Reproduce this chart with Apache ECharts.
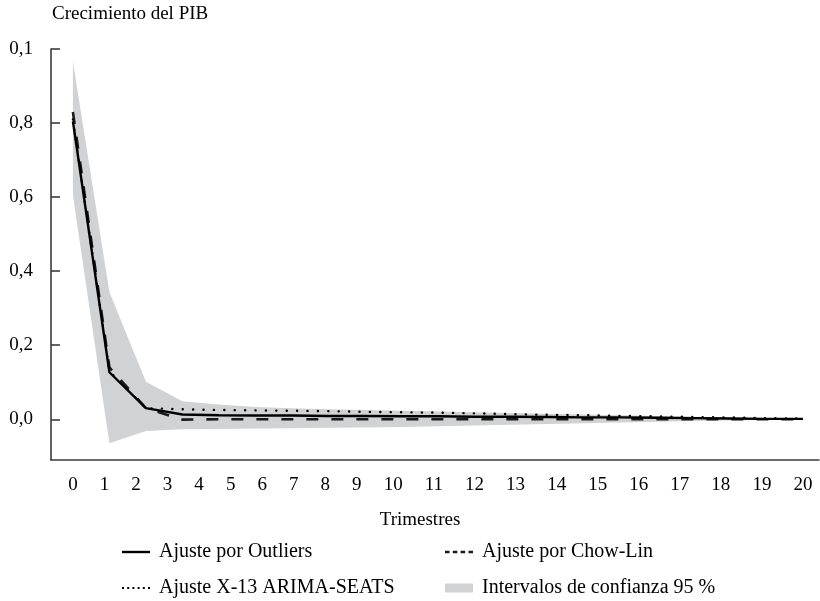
<!DOCTYPE html>
<html>
<head>
<meta charset="utf-8">
<title>Crecimiento del PIB</title>
<script src="https://cdn.jsdelivr.net/npm/echarts@6/dist/echarts.min.js"></script>
<style>
  html, body { margin: 0; padding: 0; background: #ffffff; }
  #chart { width: 820px; height: 601px; }
</style>
</head>
<body>
<div id="chart"></div>
<script>
// Quarters after the shock
const quarters = [0, 1, 2, 3, 4, 5, 6, 7, 8, 9, 10, 11, 12, 13, 14, 15, 16, 17, 18, 19, 20];

// Impulse responses of GDP growth
const outliers = [0.805, 0.127, 0.030, 0.013, 0.011, 0.010, 0.010, 0.009, 0.009, 0.008, 0.008,
                  0.007, 0.007, 0.006, 0.005, 0.005, 0.004, 0.003, 0.002, 0.001, 0.001];
const chowLin  = [0.830, 0.140, 0.030, -0.001, 0.000, 0.000, 0.000, 0.000, 0.000, 0.000, 0.000,
                  0.000, 0.000, 0.000, 0.000, 0.000, 0.000, 0.000, 0.000, 0.000, 0.000];
const x13      = [0.810, 0.130, 0.030, 0.027, 0.025, 0.024, 0.023, 0.022, 0.020, 0.019, 0.018,
                  0.016, 0.014, 0.012, 0.011, 0.009, 0.008, 0.006, 0.005, 0.003, 0.002];

// 95 % confidence band
const ciUpper  = [0.966, 0.344, 0.101, 0.049, 0.040, 0.033, 0.030, 0.027, 0.025, 0.023, 0.021,
                  0.019, 0.017, 0.015, 0.013, 0.011, 0.009, 0.007, 0.005, 0.003, 0.001];
const ciLower  = [0.605, -0.065, -0.032, -0.027, -0.026, -0.025, -0.024, -0.023, -0.022, -0.021, -0.019,
                  -0.017, -0.015, -0.013, -0.011, -0.009, -0.007, -0.005, -0.003, -0.002, 0.000];

// Tick labels
const xTickLabels = ['0', '1', '2', '3', '4', '5', '6', '7', '8', '9', '10',
                     '11', '12', '13', '14', '15', '16', '17', '18', '19', '20'];
const yTickValues = [0, 0.2, 0.4, 0.6, 0.8, 1.0];
const yTickLabels = ['0,0', '0,2', '0,4', '0,6', '0,8', '0,1'];

const FONT = '"Liberation Serif", "Times New Roman", Times, serif';
const INK = '#000000';
const AXIS = '#3c3c3c';
const BAND = '#d1d2d4';

const chart = echarts.init(document.getElementById('chart'), null, { renderer: 'canvas' });

const grid = { left: 51, right: 1, top: 49, bottom: 141 };
const xMin = -0.6, xMax = 20.44;
const yMin = -0.11, yMax = 1.0;
const tickFontSize = 19;
const legendFontSize = 20;

// The quarter labels run from the first to the last quarter with an even
// blank space between neighbouring labels.
const measure = document.createElement('canvas').getContext('2d');
measure.font = tickFontSize + 'px ' + FONT;
const widths = xTickLabels.map(t => measure.measureText(t).width);
const pxPerUnit = (chart.getWidth() - grid.left - grid.right) / (xMax - xMin);
const spanPx = (quarters[quarters.length - 1] - quarters[0]) * pxPerUnit;
let usedPx = widths[0] / 2 + widths[widths.length - 1] / 2;
for (let i = 1; i < widths.length - 1; i++) usedPx += widths[i];
const gapPx = (spanPx - usedPx) / (widths.length - 1);
const xLabelPos = [quarters[0]];
for (let i = 1; i < widths.length; i++) {
  const stepPx = widths[i - 1] / 2 + gapPx + widths[i] / 2;
  xLabelPos.push(xLabelPos[i - 1] + stepPx / pxPerUnit);
}
function nearestIndex(list, v) {
  let best = 0;
  for (let i = 1; i < list.length; i++) {
    if (Math.abs(list[i] - v) < Math.abs(list[best] - v)) best = i;
  }
  return best;
}

const pairs = arr => quarters.map((q, i) => [q, arr[i]]);

// Legend keys drawn as small filled shapes: a bar, short dashes and dots
const ICON_SOLID = 'path://M0,0h28v2.4h-28z';
const ICON_DASH = 'path://M0,0h4.5v2.4h-4.5z M7.8,0h4.5v2.4h-4.5z M15.6,0h4.5v2.4h-4.5z M23.4,0h4.5v2.4h-4.5z';
const ICON_DOT = 'path://M0,0h2v2h-2z M5.2,0h2v2h-2z M10.4,0h2v2h-2z M15.6,0h2v2h-2z M20.8,0h2v2h-2z M26,0h2v2h-2z';

const legendBase = {
  orient: 'horizontal',
  padding: 0,
  itemGap: 0,
  selectedMode: false,
  symbolKeepAspect: false,
  textStyle: { fontFamily: FONT, fontSize: legendFontSize, color: INK, padding: [0, 0, 0, 4] }
};

const option = {
  backgroundColor: '#ffffff',
  animation: false,
  title: {
    text: 'Crecimiento del PIB',
    left: 52,
    top: 5,
    padding: 0,
    textStyle: { fontFamily: FONT, fontSize: 19, fontWeight: 'normal', color: INK }
  },
  graphic: [{
    type: 'text',
    x: 420,
    y: 520,
    style: {
      text: 'Trimestres',
      font: '19px ' + FONT,
      fill: INK,
      align: 'center',
      verticalAlign: 'middle',
      textAlign: 'center',
      textVerticalAlign: 'middle'
    }
  }],
  legend: [
    Object.assign({}, legendBase, {
      data: [{ name: 'Ajuste por Outliers', icon: ICON_SOLID }],
      itemWidth: 28, itemHeight: 2.4, left: 122, top: 542 }),
    Object.assign({}, legendBase, {
      data: [{ name: 'Ajuste por Chow-Lin', icon: ICON_DASH }],
      itemWidth: 28, itemHeight: 2.4, left: 445, top: 542 }),
    Object.assign({}, legendBase, {
      data: [{ name: 'Ajuste X-13 ARIMA-SEATS', icon: ICON_DOT }],
      itemWidth: 28, itemHeight: 2, left: 122, top: 578 }),
    Object.assign({}, legendBase, {
      data: [{ name: 'Intervalos de confianza 95 %', icon: 'rect' }],
      itemWidth: 28, itemHeight: 9, left: 445, top: 578 })
  ],
  grid: Object.assign({ outerBoundsMode: 'none', containLabel: false }, grid),
  xAxis: {
    type: 'value',
    min: xMin,
    max: xMax,
    axisLine: { show: true, onZero: false, lineStyle: { color: AXIS, width: 1.6 } },
    axisTick: { show: false },
    splitLine: { show: false },
    axisLabel: {
      customValues: xLabelPos,
      formatter: v => xTickLabels[nearestIndex(xLabelPos, v)],
      margin: 16,
      fontFamily: FONT,
      fontSize: tickFontSize,
      color: INK,
      showMinLabel: true,
      showMaxLabel: true
    }
  },
  yAxis: {
    type: 'value',
    min: yMin,
    max: yMax,
    axisLine: { show: true, onZero: false, lineStyle: { color: AXIS, width: 1.6 } },
    axisTick: {
      show: true, inside: true, length: 9,
      customValues: yTickValues,
      lineStyle: { color: AXIS, width: 1.6 }
    },
    splitLine: { show: false },
    axisLabel: {
      customValues: yTickValues,
      formatter: v => yTickLabels[nearestIndex(yTickValues, v)],
      margin: 18,
      fontFamily: FONT,
      fontSize: tickFontSize,
      color: INK
    }
  },
  series: [
    {
      // Shaded band between the lower and upper 95 % bounds
      name: 'Intervalos de confianza 95 %',
      type: 'custom',
      silent: true,
      data: quarters.map((q, i) => [q, ciLower[i], ciUpper[i]]),
      encode: { x: 0, y: [1, 2] },
      itemStyle: { color: BAND },
      z: 1,
      renderItem: function (params, api) {
        if (params.dataIndex !== 0) return null;
        const pts = [];
        for (let i = 0; i < quarters.length; i++) pts.push(api.coord([quarters[i], ciUpper[i]]));
        for (let i = quarters.length - 1; i >= 0; i--) pts.push(api.coord([quarters[i], ciLower[i]]));
        return {
          type: 'polygon',
          shape: { points: pts },
          style: { fill: BAND, stroke: null }
        };
      }
    },
    {
      name: 'Ajuste por Chow-Lin',
      type: 'line',
      data: pairs(chowLin),
      symbol: 'none',
      silent: true,
      itemStyle: { color: '#1a1a1a' },
      lineStyle: { color: '#1a1a1a', width: 2.6, type: [12, 13] },
      z: 3
    },
    {
      name: 'Ajuste X-13 ARIMA-SEATS',
      type: 'line',
      data: pairs(x13),
      symbol: 'none',
      silent: true,
      itemStyle: { color: INK },
      lineStyle: { color: INK, width: 2.4, type: [0.1, 10.3], cap: 'round' },
      z: 3
    },
    {
      name: 'Ajuste por Outliers',
      type: 'line',
      data: pairs(outliers),
      symbol: 'none',
      silent: true,
      itemStyle: { color: INK },
      lineStyle: { color: INK, width: 2.4 },
      z: 4
    }
  ]
};

chart.setOption(option);
</script>
</body>
</html>
